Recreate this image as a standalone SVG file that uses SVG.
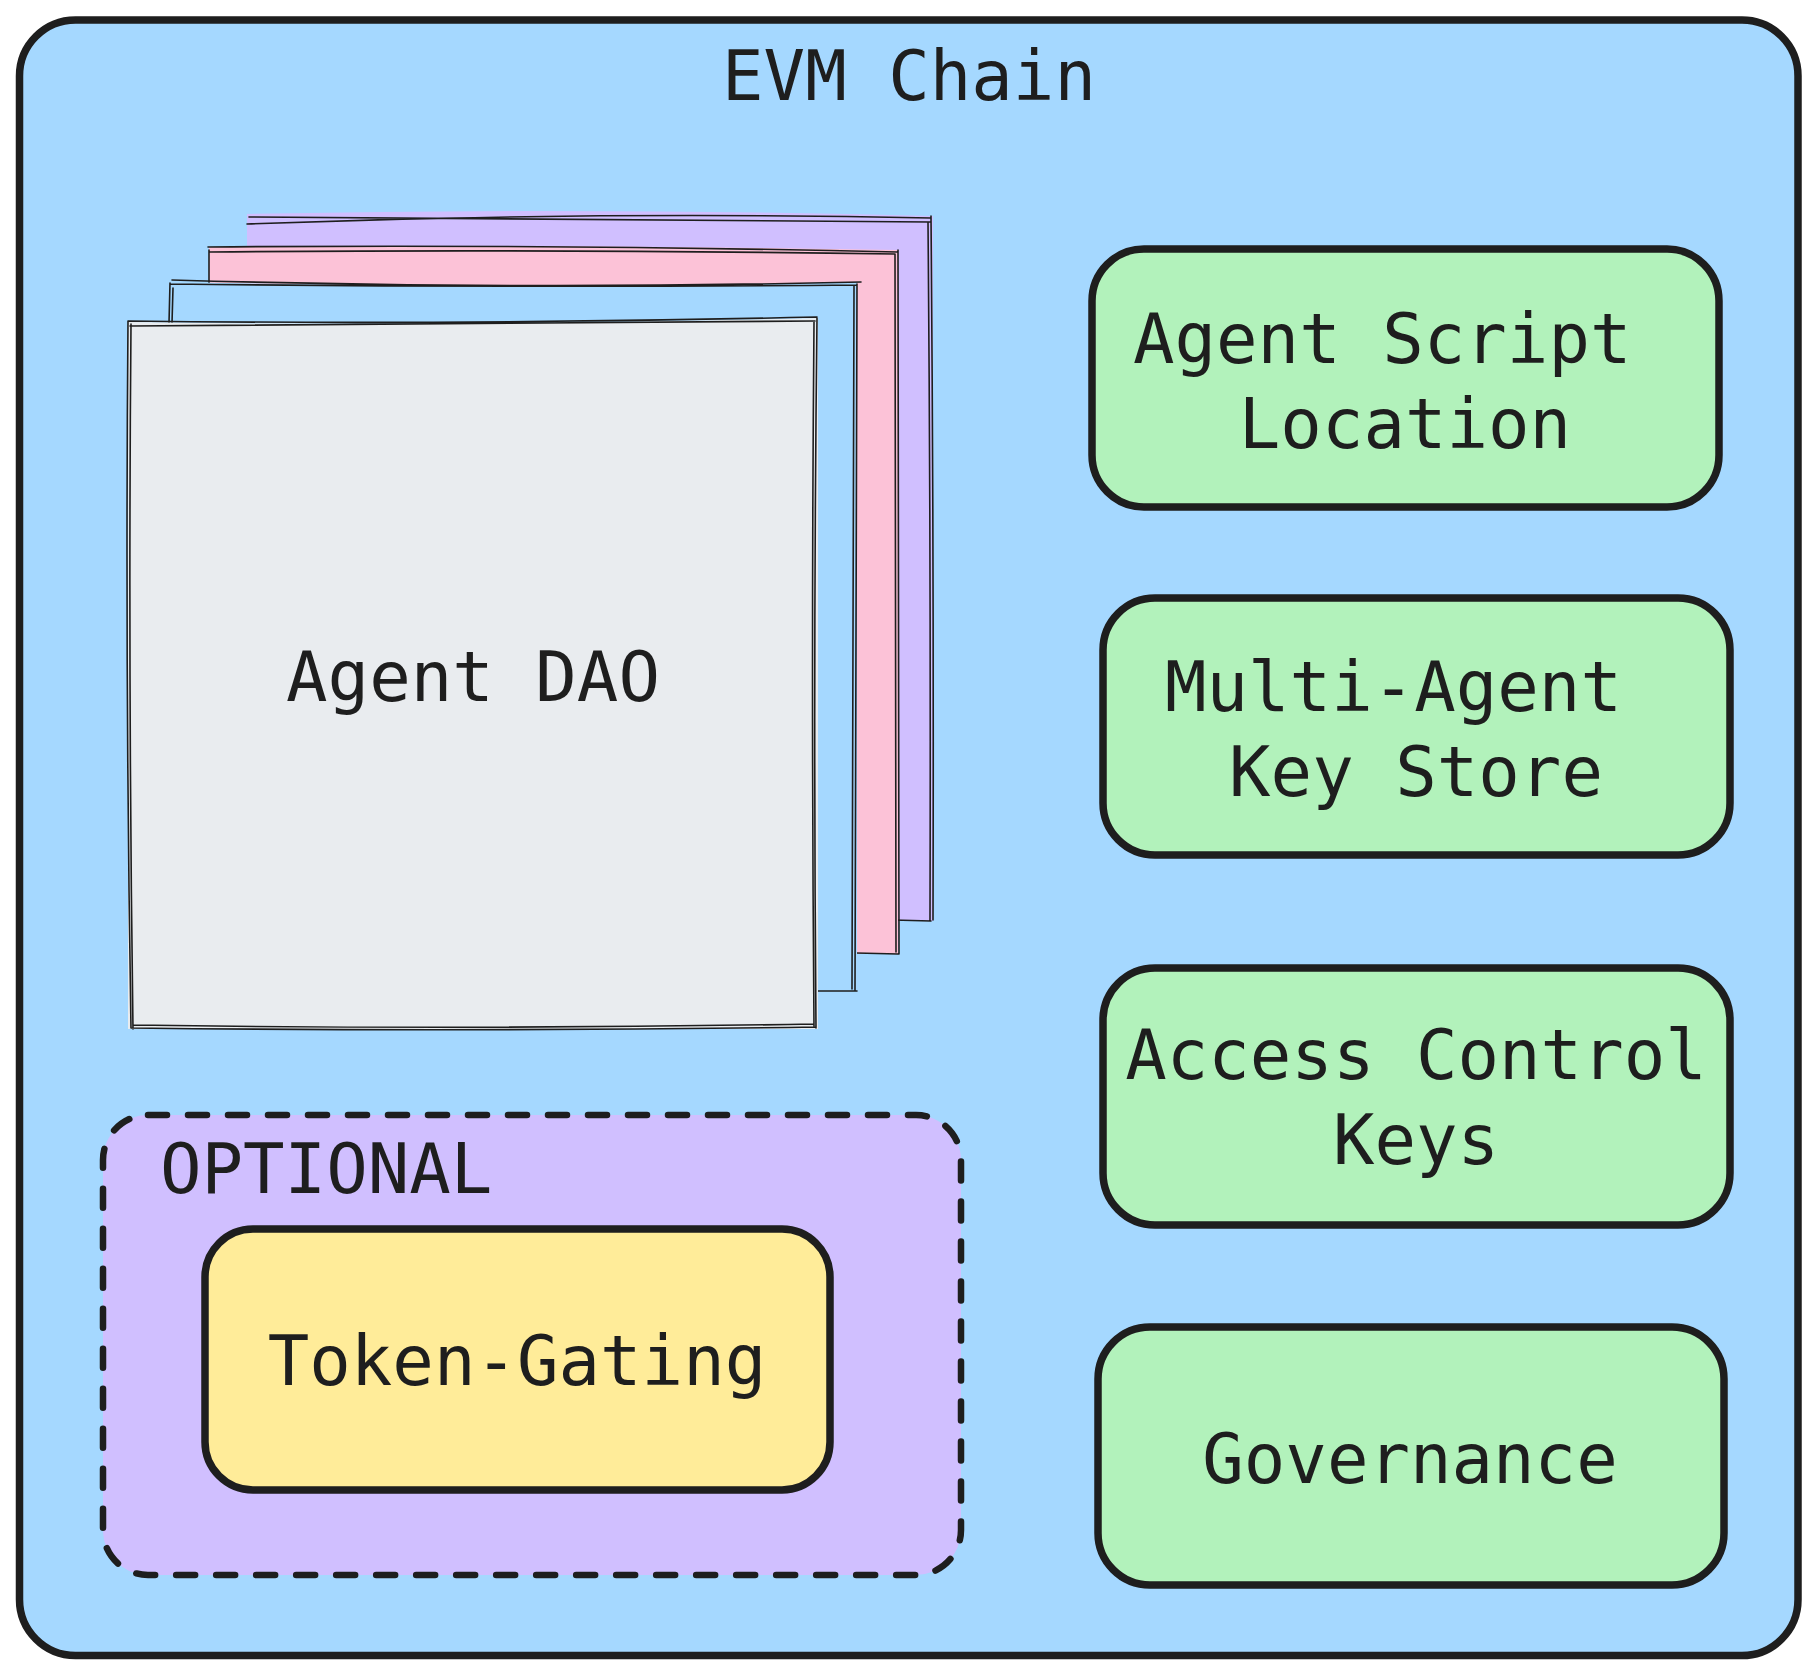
<svg xmlns="http://www.w3.org/2000/svg" width="1817" height="1675" viewBox="0 0 1817 1675">
<style>
.t{font-family:"DejaVu Sans Mono","Liberation Mono",monospace;font-size:69px;fill:#1e1e1e}
.thin{fill:none;stroke:#1e1e1e;stroke-width:1.6;stroke-linecap:round}
.box{stroke:#1e1e1e;stroke-width:7.5}
</style>
<rect width="1817" height="1675" fill="#ffffff"/>
<g id="evm-chain">
<rect x="19.5" y="20" width="1778.5" height="1635.5" rx="56" fill="#a5d8ff" stroke="#1e1e1e" stroke-width="7.5"/>
<text class="t" x="909" y="100" text-anchor="middle">EVM Chain</text>
</g>
<g id="agent-dao">
<path d="M247 214 Q590 207 933 216 L933 921 L247 921 Z" fill="#d0bfff"/>
<path class="thin" d="M247 224 Q590 211 931 218 M249 217 Q590 220 930 222 M931 216 Q934 560 933 920 M928 222 Q931 560 930 920 M893 920 L931 921"/>
<path d="M209 247 Q550 244 898 250 L898 954 L209 954 Z" fill="#fcc2d7"/>
<path class="thin" d="M208 247 Q550 244 897 252 M209 252 Q550 249 895 254 M898 250 Q899 600 899 954 M895 254 Q896 600 896 952 M856 953 L898 954 M209 250 L209 286"/>
<path d="M170 282 Q520 289 857 282 L857 991 L170 991 Z" fill="#a5d8ff"/>
<path class="thin" d="M172 280 Q520 290 861 282 M170 284 Q520 288 857 285 M857 284 Q855 640 855 990 M854 286 Q852 640 852 989 M817 991 L857 991 M170 283 L169 323 M173 288 L172 323"/>
<path d="M128 322 Q470 327 818 318 L818 1029 L128 1029 Z" fill="#e9ecef"/>
<path class="thin" d="M128 321 Q470 325 817 317 M130 326 Q470 323 815 321 M817 318 Q813 670 816 1028 M814 322 Q811 670 814 1026 M128 321 Q125 670 131 1028 M131 324 Q128 670 133 1029 M131 1028 Q470 1032 816 1027 M133 1025 Q470 1030 814 1024"/>
<text class="t" x="473" y="701" text-anchor="middle">Agent DAO</text>
</g>
<g id="optional">
<rect x="103" y="1115" width="858" height="460" rx="45" fill="#d0bfff" stroke="#1e1e1e" stroke-width="6.5" stroke-dasharray="19 21" stroke-linecap="round"/>
<text class="t" x="160" y="1193">OPTIONAL</text>
</g>
<g id="token-gating">
<rect x="205" y="1229" width="625" height="261" rx="48" fill="#ffec99" class="box"/>
<text class="t" x="517" y="1385" text-anchor="middle">Token-Gating</text>
</g>
<g id="agent-script-location">
<rect x="1092" y="249" width="627" height="258" rx="52" fill="#b2f2bb" class="box"/>
<text class="t" x="1133" y="363">Agent Script</text>
<text class="t" x="1405" y="448" text-anchor="middle">Location</text>
</g>
<g id="multi-agent-key-store">
<rect x="1103" y="598" width="627" height="257" rx="52" fill="#b2f2bb" class="box"/>
<text class="t" x="1165" y="711">Multi-Agent</text>
<text class="t" x="1416" y="796" text-anchor="middle">Key Store</text>
</g>
<g id="access-control-keys">
<rect x="1103" y="968" width="627" height="257" rx="52" fill="#b2f2bb" class="box"/>
<text class="t" x="1416" y="1079" text-anchor="middle">Access Control</text>
<text class="t" x="1416" y="1164" text-anchor="middle">Keys</text>
</g>
<g id="governance">
<rect x="1098" y="1327" width="626" height="258" rx="52" fill="#b2f2bb" class="box"/>
<text class="t" x="1410" y="1483" text-anchor="middle">Governance</text>
</g>
<g id="connectors"></g>
</svg>
